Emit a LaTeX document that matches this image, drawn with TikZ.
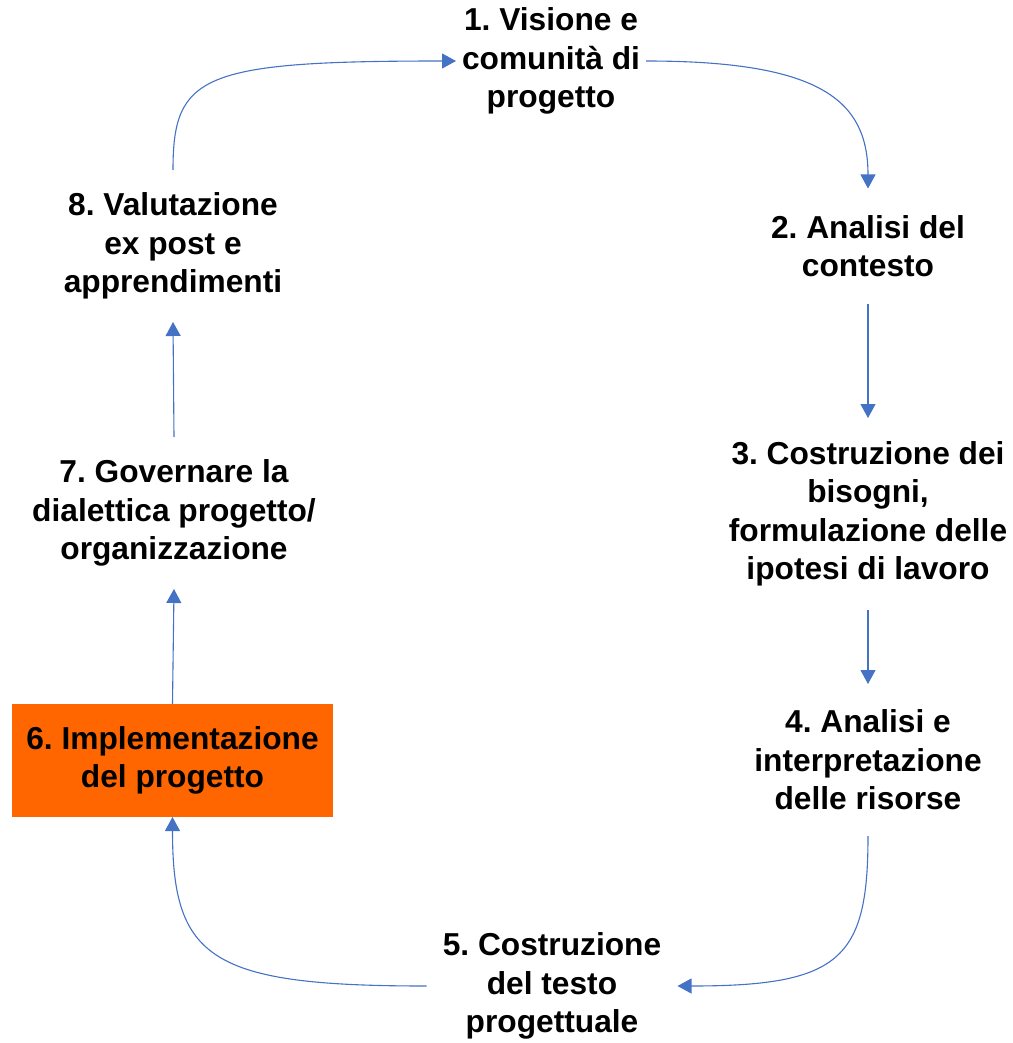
\documentclass[tikz,border=0pt]{standalone}
\usepackage{fontspec}
\setmainfont{Liberation Sans}
\usetikzlibrary{arrows.meta}
\definecolor{arrblue}{HTML}{4472C4}
\definecolor{boxorange}{HTML}{FF6600}
\frenchspacing
\begin{document}
\begin{tikzpicture}[x=1pt,y=-1pt,
  lbl/.style={align=center,inner sep=0pt,outer sep=0pt,font=\fontsize{31.7}{38.5}\selectfont\bfseries},
  conn/.style={draw=arrblue,line width=1.1pt,-{Triangle[length=14pt,width=15pt]}}]
\useasboundingbox (0,0) rectangle (1012,1043);
\node[lbl,minimum width=190pt] (n1) at (551,61) {1. Visione e\\comunità di\\progetto};
\node[lbl,minimum height=115pt] (n2) at (868,246) {2. Analisi del\\contesto};
\node[lbl,minimum height=192pt] (n3) at (868,514) {3. Costruzione dei\\bisogni,\\formulazione delle\\ipotesi di lavoro};
\node[lbl,minimum height=152pt] (n4) at (868,760) {4. Analisi e\\interpretazione\\delle risorse};
\node[lbl,minimum width=251pt] (n5) at (552,986) {5. Costruzione\\del testo\\progettuale};
\node[lbl,fill=boxorange,minimum width=321pt,minimum height=113pt] (n6) at (172.5,760.5) {6. Implementazione\\del progetto};
\node[lbl,minimum height=152pt] (n7) at (174,513) {7. Governare la\\dialettica progetto/\\organizzazione};
\node[lbl,minimum height=152pt] (n8) at (173,246) {8. Valutazione\\ex post e\\apprendimenti};
\draw[conn] (n8.north) .. controls +(0,-95) and +(-255,0) .. (n1.west);
\draw[conn] (n1.east) .. controls +(175,0) and +(0,-88) .. (n2.north);
\draw[conn] (n2.south) -- (n3.north);
\draw[conn] (n3.south) -- (n4.north);
\draw[conn] (n4.south) .. controls +(0,123) and +(163,0) .. (n5.east);
\draw[conn] (n5.west) .. controls +(-216,0) and +(0,142) .. (n6.south);
\draw[conn] (n6.north) -- (n7.south);
\draw[conn] (n7.north) -- (n8.south);
\end{tikzpicture}
\end{document}
